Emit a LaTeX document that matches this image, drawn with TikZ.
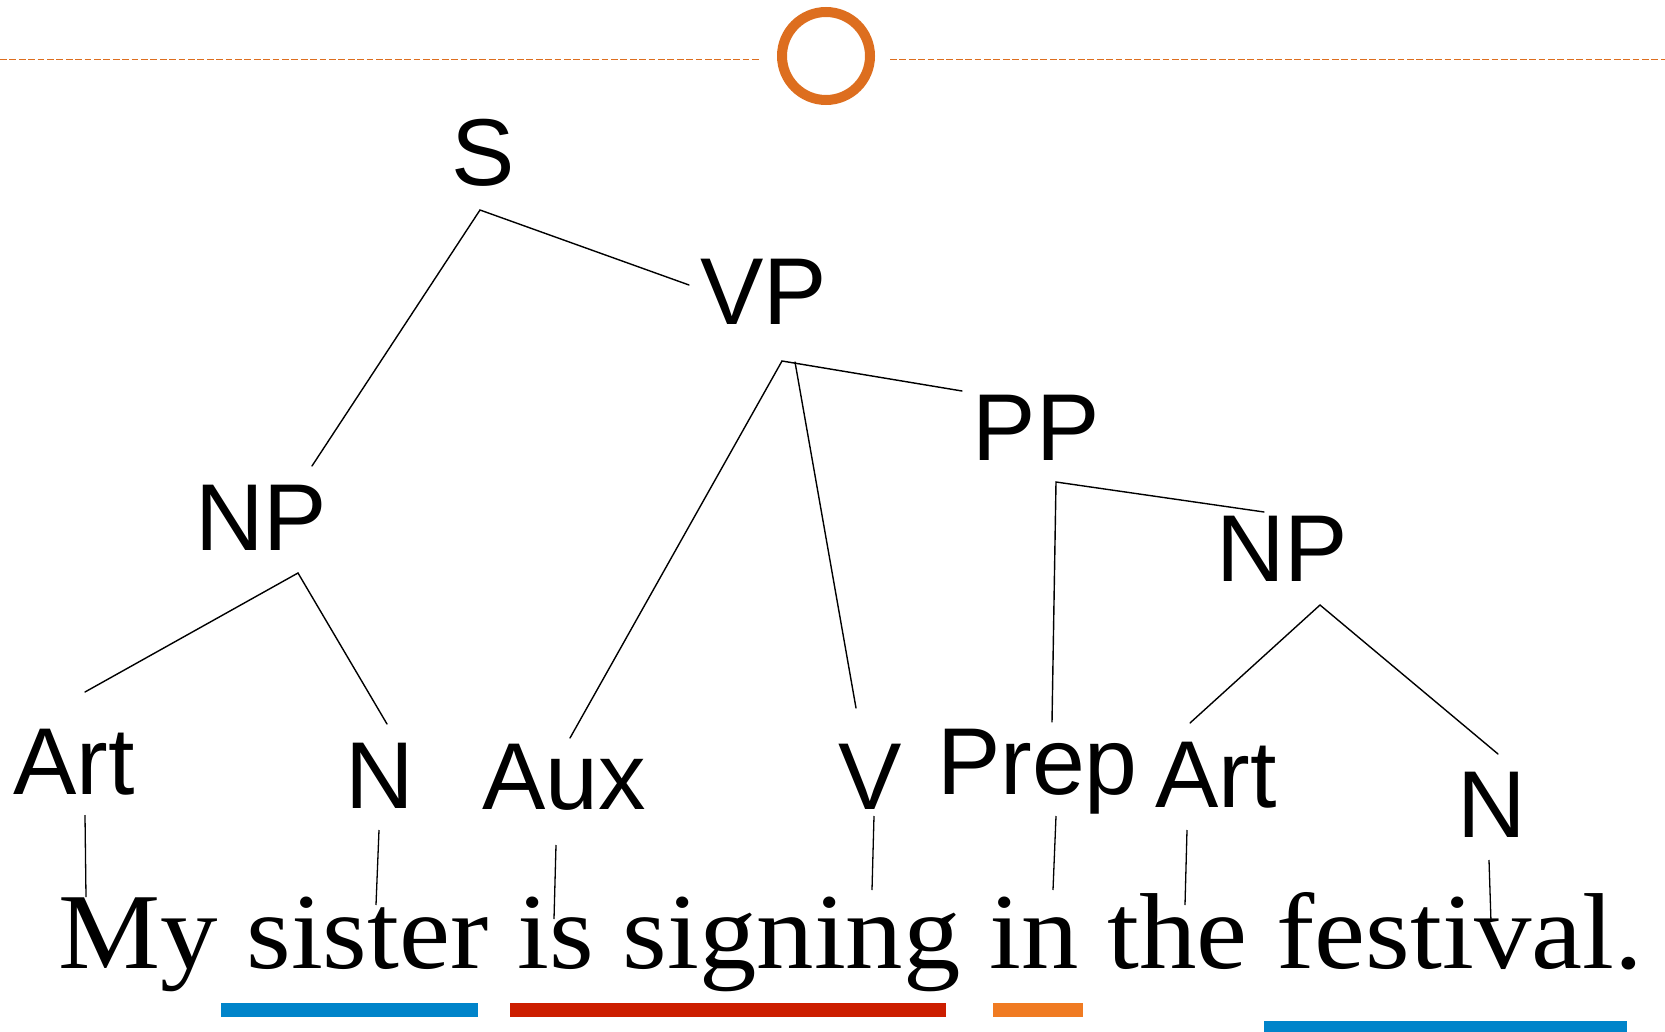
\documentclass[tikz,border=0pt]{standalone}
\usepackage{fontspec}
\setmainfont{Liberation Serif}
\newfontfamily\arialf{Liberation Sans}
\definecolor{deco}{HTML}{DD6E1F}
\definecolor{ublue}{HTML}{0084CA}
\definecolor{ured}{HTML}{CC1E00}
\definecolor{uorange}{HTML}{F07B22}
\begin{document}
\begin{tikzpicture}[x=1pt,y=-1pt,
  lab/.style={anchor=base,inner sep=0pt,font=\arialf\fontsize{95}{95}\selectfont},
  branch/.style={line width=1.4pt,line cap=round},
  leaf/.style={line width=1.3pt},
  uline/.style={line width=0pt}]
\useasboundingbox (0,0) rectangle (1665,1032);
% header decoration
\draw[deco,line width=1.5pt,dash pattern=on 6.7pt off 2.7pt] (0,59.5) -- (761,59.5);
\draw[deco,line width=1.5pt,dash pattern=on 6.7pt off 2.7pt] (890,59.5) -- (1665,59.5);
\node[circle,draw=deco,line width=10pt,minimum size=88pt,inner sep=0pt] (ring) at (826,56) {};
% labels
\node[lab] (S) at (483,186) {S};
\node[lab] (VP) at (763.5,324) {VP};
\node[lab] (NPa) at (261,550) {NP};
\node[lab] (PP) at (1036,460) {PP};
\node[lab] (NPb) at (1282,581) {NP};
\node[lab] (Arta) at (74,794) {Art};
\node[lab] (Na) at (380,808) {N};
\node[lab] (Aux) at (564,809) {Aux};
\node[lab] (V) at (870,809) {V};
\node[lab] (Prep) at (1037.5,794) {Prep};
\node[lab] (Artb) at (1216,807) {Art};
\node[lab] (Nb) at (1492,837) {N};
% sentence
\node[anchor=base west,inner sep=0pt] (sent) at (58,968.5) {\scalebox{1.063}[1]{\fontsize{108}{108}\selectfont My sister is signing in the festival.}};
% connector end points
\coordinate (S-f) at (480,210);
\coordinate (NPa-t) at (312,466);
\coordinate (VP-t) at (689,285);
\coordinate (VP-f1) at (782,361);
\coordinate (VP-f2) at (795,362);
\coordinate (Aux-t) at (570,738);
\coordinate (V-t) at (856,708);
\coordinate (PP-t) at (962,391);
\coordinate (PP-f) at (1056,482);
\coordinate (Prep-t) at (1052,722);
\coordinate (NPb-t) at (1264,512);
\coordinate (NPa-f) at (298,573);
\coordinate (Arta-t) at (85,692);
\coordinate (Na-t) at (387,724);
\coordinate (NPb-f) at (1320,605);
\coordinate (Artb-t) at (1190,723);
\coordinate (Nb-t) at (1498,754);
\coordinate (Arta-b) at (85,815);
\coordinate (Na-b) at (379,830);
\coordinate (Aux-b) at (556,845);
\coordinate (V-b) at (874,816);
\coordinate (Prep-b) at (1056,816);
\coordinate (Artb-b) at (1187,830);
\coordinate (Nb-b) at (1489,860);
\coordinate (w1) at (86,897);
\coordinate (w2) at (376,905);
\coordinate (w3) at (554,919);
\coordinate (w4) at (872,890);
\coordinate (w5) at (1053,890);
\coordinate (w6) at (1185,905);
\coordinate (w7) at (1491,922);
% tree branches
\draw[branch] (NPa-t) -- (S-f) -- (VP-t);
\draw[branch] (Aux-t) -- (VP-f1) -- (PP-t);
\draw[branch] (VP-f2) -- (V-t);
\draw[branch] (Prep-t) -- (PP-f) -- (NPb-t);
\draw[branch] (Arta-t) -- (NPa-f) -- (Na-t);
\draw[branch] (Artb-t) -- (NPb-f) -- (Nb-t);
% leaf lines
\draw[leaf] (Arta-b) -- (w1);
\draw[leaf] (Na-b) -- (w2);
\draw[leaf] (Aux-b) -- (w3);
\draw[leaf] (V-b) -- (w4);
\draw[leaf] (Prep-b) -- (w5);
\draw[leaf] (Artb-b) -- (w6);
\draw[leaf] (Nb-b) -- (w7);
% underlines
\fill[ublue] (221,1003) rectangle (478,1017);
\fill[ured] (510,1003) rectangle (946,1017);
\fill[uorange] (993,1003) rectangle (1083,1017);
\fill[ublue] (1264,1021) rectangle (1627,1036);
\end{tikzpicture}
\end{document}
